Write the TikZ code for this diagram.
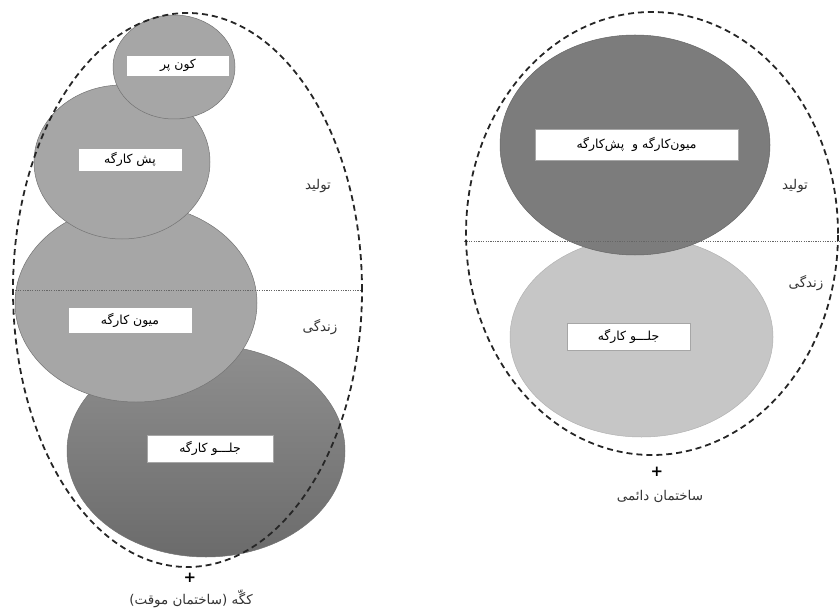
\documentclass[tikz,border=0pt]{standalone}
\usepackage{fontspec}
\newfontfamily\fa[Script=Arabic]{DejaVu Sans}
\newfontfamily\djv{DejaVu Sans}
\TeXXeTstate=1
\usetikzlibrary{shapes.geometric}
\newcommand\rtltext[1]{{\fa\beginR #1\endR}}
\definecolor{midgray}{HTML}{A6A6A6}
\definecolor{darkgray2}{HTML}{7C7C7C}
\definecolor{lightgray2}{HTML}{C6C6C6}
\tikzset{
  blob/.style={ellipse, inner sep=0pt, draw=black!55, line width=0.5pt},
  tag/.style={rectangle, fill=white, draw=black!35, line width=0.4pt, inner sep=0pt, font=\fa\fontsize{12.5}{14}\selectfont},
  zone/.style={ellipse, inner sep=0pt, draw=black!85, line width=1.8pt, dash pattern=on 6pt off 4pt},
  divider/.style={draw=black!60, line width=0.8pt, dash pattern=on 1.2pt off 1.2pt},
  side/.style={font=\fa\fontsize{13.5}{15}\selectfont, text=black!80},
  plus/.style={font=\djv\bfseries\fontsize{15}{15}\selectfont, inner sep=0pt}
}
\begin{document}
\begin{tikzpicture}[x=1bp,y=-1bp]
\useasboundingbox (0,0) rectangle (840,611);
% ---------- left: temporary building ----------
\node[blob, minimum width=278bp, minimum height=212bp,
      top color=black!44, bottom color=black!58] (jelo) at (206,451) {};
\node[blob, fill=midgray, minimum width=242bp, minimum height=198bp] (miyun) at (136,303) {};
\node[blob, fill=midgray, minimum width=176bp, minimum height=154bp] (posh) at (122,162) {};
\node[blob, fill=midgray, minimum width=122bp, minimum height=104bp] (kun) at (174,67) {};
\node[tag, minimum width=103bp, minimum height=21bp] (kunT) at (178,65.5) {\rtltext{کون پر}};
\node[tag, minimum width=104bp, minimum height=23bp] (poshT) at (130,159.5) {\rtltext{پش کارگه}};
\node[tag, minimum width=124bp, minimum height=26bp] (miyunT) at (130,320) {\rtltext{میون کارگه}};
\node[tag, minimum width=126bp, minimum height=27bp] (jeloT) at (210,448.5) {\rtltext{جلـــو کارگه}};
\coordinate (dl1) at (13,290);
\coordinate (dl2) at (362,290);
\draw[divider] (dl1) -- (dl2);
\node[zone, minimum width=349bp, minimum height=554bp] (leftzone) at (187.5,290) {};
\node[side] (tolidL) at (318,186) {\rtltext{تولید}};
\node[side] (zendL) at (320,327) {\rtltext{زندگی}};
\node[plus] (plusL) at (190,578) {+};
\node[side] (capL) at (191,599) {\rtltext{کگّه \mbox{(}ساختمان موقت\mbox{)}}};
% ---------- right: permanent building ----------
\node[blob, fill=lightgray2, draw=black!30, minimum width=263bp, minimum height=200bp] (jeloR) at (641.5,337) {};
\node[blob, fill=darkgray2, draw=black!60, minimum width=270bp, minimum height=220bp] (miyunR) at (635,145) {};
\node[tag, minimum width=203bp, minimum height=31bp] (miyunRT) at (636.5,144.5) {\rtltext{میون‌کارگه و\ \ پش‌کارگه}};
\node[tag, minimum width=123bp, minimum height=27bp] (jeloRT) at (628.5,336.5) {\rtltext{جلـــو کارگه}};
\coordinate (dr1) at (464,241);
\coordinate (dr2) at (840,241);
\draw[divider] (dr1) -- (dr2);
\node[zone, minimum width=372bp, minimum height=443bp] (rightzone) at (652,233.5) {};
\node[side] (tolidR) at (795,186) {\rtltext{تولید}};
\node[side] (zendR) at (806,283) {\rtltext{زندگی}};
\node[plus] (plusR) at (657,472) {+};
\node[side] (capR) at (660,496) {\rtltext{ساختمان دائمی}};
\end{tikzpicture}
\end{document}
